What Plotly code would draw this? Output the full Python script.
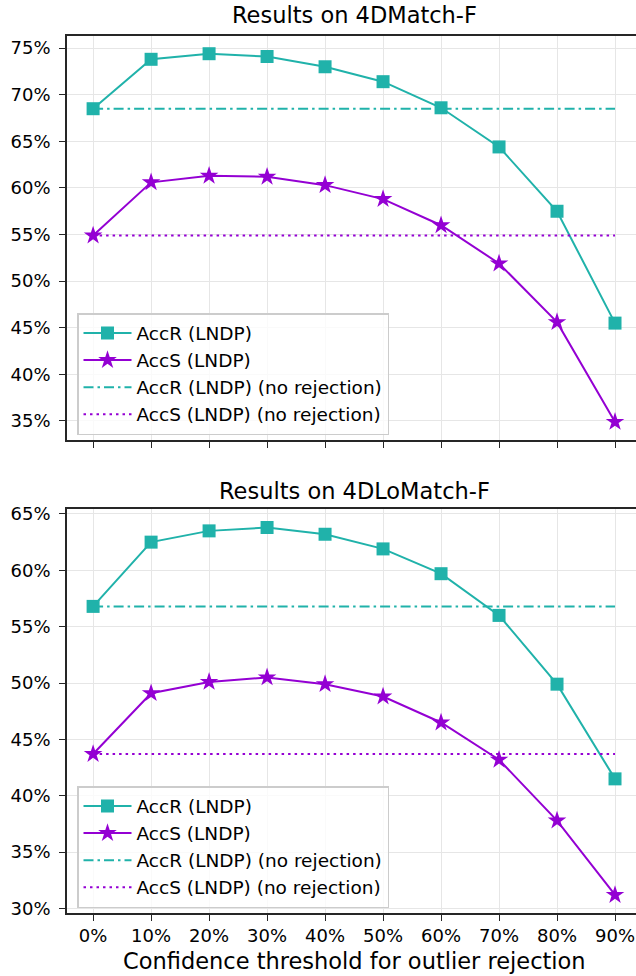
import plotly.graph_objects as go

thresholds = [0, 10, 20, 30, 40, 50, 60, 70, 80, 90]
x_ticklabels = ["0%", "10%", "20%", "30%", "40%", "50%", "60%", "70%", "80%", "90%"]

# 4DMatch-F
match_accr = [68.5, 73.8, 74.4, 74.1, 73.0, 71.4, 68.6, 64.4, 57.5, 45.5]
match_accs = [54.9, 60.6, 61.3, 61.2, 60.3, 58.8, 56.0, 51.9, 45.6, 34.9]
match_accr_norej = 68.5
match_accs_norej = 54.9
match_yticks = [35, 40, 45, 50, 55, 60, 65, 70, 75]

# 4DLoMatch-F
lomatch_accr = [56.8, 62.5, 63.5, 63.8, 63.2, 61.9, 59.7, 56.0, 49.9, 41.5]
lomatch_accs = [43.7, 49.1, 50.1, 50.5, 49.9, 48.8, 46.5, 43.2, 37.8, 31.2]
lomatch_accr_norej = 56.8
lomatch_accs_norej = 43.7
lomatch_yticks = [30, 35, 40, 45, 50, 55, 60, 65]

titles = ["Results on 4DMatch-F", "Results on 4DLoMatch-F"]
xlabel = "Confidence threshold for outlier rejection"
names = ["AccR (LNDP)", "AccS (LNDP)", "AccR (LNDP) (no rejection)", "AccS (LNDP) (no rejection)"]

TEAL = "#20B2AA"
PURPLE = "#9400D3"
FONT = "DejaVu Sans"
W, H = 636, 976
L = 67

fig = go.Figure()

def add_panel(idx, accr, accs, accr_n, accs_n):
    xa = "x" if idx == 0 else "x2"
    ya = "y" if idx == 0 else "y2"
    lg = "legend" if idx == 0 else "legend2"
    fig.add_trace(go.Scatter(x=thresholds, y=accr, mode="lines+markers", name=names[0],
                             line=dict(color=TEAL, width=2),
                             marker=dict(symbol="square", size=13, color=TEAL, line=dict(width=0)),
                             xaxis=xa, yaxis=ya, legend=lg))
    fig.add_trace(go.Scatter(x=thresholds, y=accs, mode="lines+markers", name=names[1],
                             line=dict(color=PURPLE, width=2),
                             marker=dict(symbol="star", size=14, color=PURPLE, line=dict(width=0)),
                             xaxis=xa, yaxis=ya, legend=lg))
    fig.add_trace(go.Scatter(x=[thresholds[0], thresholds[-1]], y=[accr_n, accr_n], mode="lines",
                             name=names[2], line=dict(color=TEAL, width=2, dash="10px,4px,2.5px,4px"),
                             xaxis=xa, yaxis=ya, legend=lg))
    fig.add_trace(go.Scatter(x=[thresholds[0], thresholds[-1]], y=[accs_n, accs_n], mode="lines",
                             name=names[3], line=dict(color=PURPLE, width=2, dash="2.5px,4px"),
                             xaxis=xa, yaxis=ya, legend=lg))

add_panel(0, match_accr, match_accs, match_accr_norej, match_accs_norej)
add_panel(1, lomatch_accr, lomatch_accs, lomatch_accr_norej, lomatch_accs_norej)

def py(p):
    return 1 - p / H

def px(p):
    return (p - L) / (W - L)

axis_common = dict(showline=True, linecolor="#262626", linewidth=1.6, ticks="outside",
                   ticklen=6, tickwidth=1.4, tickcolor="#262626", showgrid=True,
                   gridcolor="#e6e6e6", gridwidth=1.2, zeroline=False,
                   tickfont=dict(family=FONT, size=18, color="black"))

xrange = [-4.5, 93.62]
legend_common = dict(xanchor="left", yanchor="top", bgcolor="rgba(255,255,255,0.8)",
                     bordercolor="#cccccc", borderwidth=1.5,
                     font=dict(family=FONT, size=18.5, color="black"), itemwidth=48)
fig.update_layout(
    width=W, height=H,
    margin=dict(l=L, r=0, t=0, b=0, autoexpand=False),
    paper_bgcolor="white", plot_bgcolor="white",
    font=dict(family=FONT, size=18, color="black"),
    xaxis=dict(domain=[0, 1], range=xrange, tickvals=thresholds, ticktext=x_ticklabels,
               showticklabels=False, mirror=True, anchor="y", ticklabelstandoff=0, **axis_common),
    yaxis=dict(domain=[py(440), py(36)], range=[32.96, 76.3], tickvals=match_yticks,
               ticktext=[f"{v}%" for v in match_yticks], anchor="x", ticklabelstandoff=5, **axis_common),
    xaxis2=dict(domain=[0, 1], range=xrange, tickvals=thresholds, ticktext=x_ticklabels,
                mirror=True, anchor="y2", ticklabelstandoff=0, **axis_common),
    yaxis2=dict(domain=[py(913), py(509)], range=[29.6, 65.44], tickvals=lomatch_yticks,
                ticktext=[f"{v}%" for v in lomatch_yticks], anchor="x2", ticklabelstandoff=5, **axis_common),
    legend=dict(x=px(77), y=py(313), **legend_common),
    legend2=dict(x=px(77), y=py(786), **legend_common),
    showlegend=True,
)

annots = [
    dict(text=titles[0], x=px(354), y=py(15.5), xref="paper", yref="paper",
         xanchor="center", yanchor="middle", showarrow=False, font=dict(family=FONT, size=22.5, color="black")),
    dict(text=titles[1], x=px(354), y=py(490.8), xref="paper", yref="paper",
         xanchor="center", yanchor="middle", showarrow=False, font=dict(family=FONT, size=22.5, color="black")),
    dict(text=xlabel, x=px(354), y=py(961), xref="paper", yref="paper",
         xanchor="center", yanchor="middle", showarrow=False, font=dict(family=FONT, size=22.5, color="black")),
]
fig.update_layout(annotations=annots)

fig.write_html("out.html", config={"displayModeBar": False},
               post_script="document.body.style.margin='0';document.body.style.overflow='hidden';")
